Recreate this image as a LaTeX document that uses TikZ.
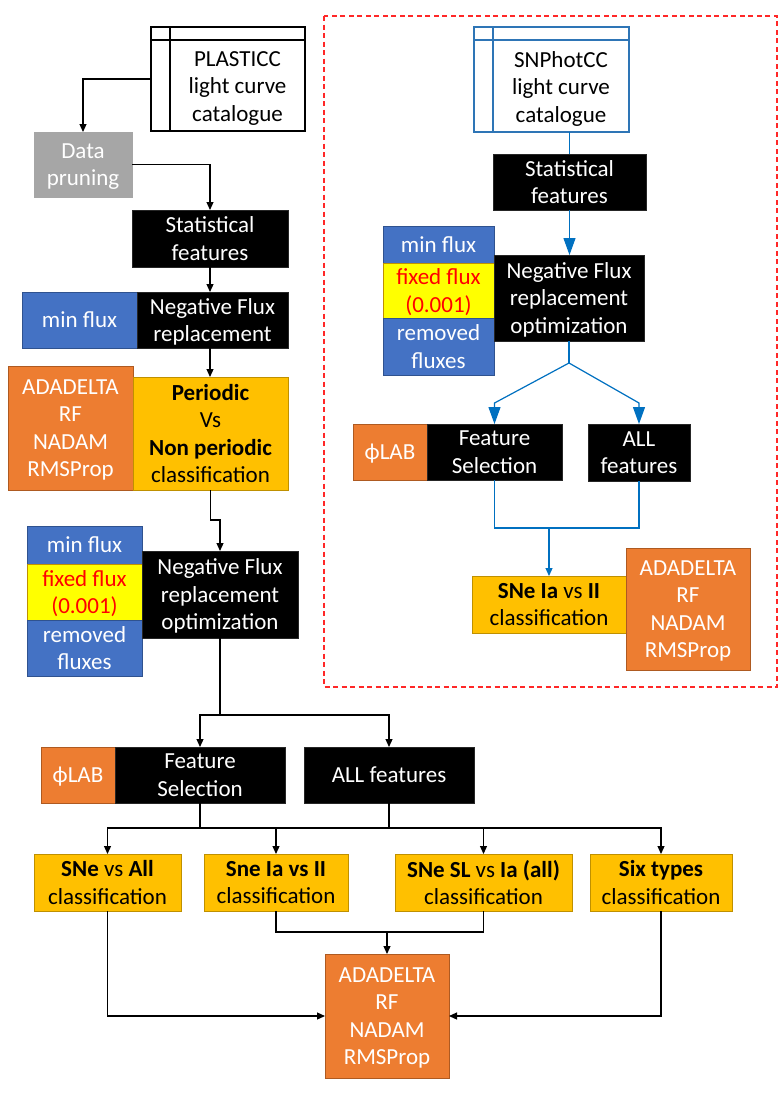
\documentclass[tikz,border=0pt]{standalone}
\usepackage{fontspec}
\setmainfont{Carlito}
\usetikzlibrary{arrows.meta}
\definecolor{orng}{RGB}{237,125,49}
\definecolor{orngd}{RGB}{174,90,33}
\definecolor{yel}{RGB}{255,192,0}
\definecolor{yeld}{RGB}{191,144,0}
\definecolor{blu}{RGB}{68,114,196}
\definecolor{blud}{RGB}{47,82,143}
\definecolor{gry}{RGB}{166,166,166}
\definecolor{dbblue}{RGB}{46,117,182}
\definecolor{lnblue}{RGB}{0,112,192}
\definecolor{brightyel}{RGB}{255,255,0}
\definecolor{redtxt}{RGB}{255,0,0}
\definecolor{reddash}{RGB}{255,40,40}
\newcommand\mybox[7]{\node[#2, minimum width={#4-#3}, minimum height={#6-#5}, text depth=0pt] (#1) at ({(#3+#4)/2},{(#5+#6)/2}) {#7};}
\begin{document}
\begin{tikzpicture}[x=1pt,y=-1pt,
  every node/.style={font=\fontsize{23}{27.5}\selectfont, align=center, inner sep=0pt, outer sep=0pt},
  blk/.style={fill=black, draw=black!85, line width=0.8pt, text=white},
  org/.style={fill=orng, draw=orngd, line width=0.8pt, text=white},
  ylw/.style={fill=yel, draw=yeld, line width=0.8pt, text=black},
  bl/.style={fill=blu, draw=blud, line width=0.8pt, text=white},
  byl/.style={fill=brightyel, draw=yeld, line width=0.8pt, text=redtxt},
  gr/.style={fill=gry, draw=gry, line width=0.8pt, text=white},
  db/.style={draw=black, line width=1.2pt, fill=white},
  line/.style={draw=black, line width=1.2pt},
  arr/.style={line, -{Triangle[length=8pt,width=7pt]}},
  bline/.style={draw=lnblue, line width=1.2pt},
  barr/.style={bline, -{Triangle[length=17pt,width=12pt]}},
  sarr/.style={bline, -{Triangle[length=8pt,width=7pt]}}
]
\useasboundingbox (0,0) rectangle (782,1101);

% ---------------- left column ----------------
\mybox{db1}{db}{151}{305}{27}{131}{}
\draw[line width=1.2pt] (151,40) -- (305,40);
\draw[line width=1.2pt] (170,27) -- (170,131);
\node (db1t) at (237.5,88.5) {PLASTICC\\light curve\\catalogue};

\mybox{prune}{gr}{34}{132}{132}{197}{Data\\pruning}
\mybox{stat1}{blk}{132}{288}{210}{267}{Statistical\\features}
\mybox{mf1}{bl}{22}{137}{292}{348}{min flux}
\mybox{neg1}{blk}{137}{288}{292}{348}{Negative Flux\\replacement}
\mybox{alg1}{org}{8}{133}{366}{490}{ADADELTA\\RF\\NADAM\\RMSProp}
\mybox{per}{ylw}{133}{288}{377}{490}{\textbf{Periodic}\\Vs\\\textbf{Non periodic}\\classification}
\mybox{mf2}{bl}{27}{142}{526}{564}{min flux}
\mybox{ff2}{byl}{27}{142}{564}{620}{fixed flux\\(0.001)}
\mybox{rf2}{bl}{27}{142}{620}{676}{removed\\fluxes}
\mybox{neg2}{blk}{142}{298}{551}{638}{Negative Flux\\replacement\\optimization}
\mybox{phi1}{org}{41}{115}{747}{803}{ϕLAB}
\mybox{fs1}{blk}{115}{285}{747}{803}{Feature\\Selection}
\mybox{all1}{blk}{304}{474}{747}{803}{ALL features}
\mybox{c1}{ylw}{34}{181}{854}{911}{\textbf{SNe} vs \textbf{All}\\classification}
\mybox{c2}{ylw}{204}{348}{854}{911}{\textbf{Sne Ia vs II}\\classification}
\mybox{c3}{ylw}{395}{572}{854}{911}{\textbf{SNe SL} vs \textbf{Ia (all)}\\classification}
\mybox{c4}{ylw}{590}{732}{854}{911}{\textbf{Six types}\\classification}
\mybox{alg2}{org}{325}{449}{954}{1078}{ADADELTA\\RF\\NADAM\\RMSProp}

\draw[arr] (db1.west) -| (prune.north);
\draw[arr] (prune.east) -| (stat1.north);
\draw[arr] (stat1.south) -- (stat1.south |- neg1.north);
\draw[arr] (stat1.south |- neg1.south) -- (stat1.south |- per.north);
\coordinate (j0) at (210.5,520);
\draw[arr] (per.south) -- (j0) -| (neg2.north);
\coordinate (j1) at (220,715);
\draw[line] (neg2.south) -- (j1);
\draw[arr] (j1) -| (fs1.north);
\draw[arr] (j1) -| (all1.north);
\coordinate (j2) at (200,828);
\coordinate (j2b) at (389,828);
\draw[line] (fs1.south) -- (j2);
\draw[line] (all1.south) -- (j2b);
\draw[line] (j2) -- (j2b);
\draw[arr] (j2) -| (c1.north);
\draw[arr] (j2) -| (c2.north);
\draw[arr] (j2b) -| (c3.north);
\draw[arr] (j2b) -| (c4.north);
\coordinate (j3) at (387,932);
\draw[line] (c2.south) |- (j3) -| (c3.south);
\draw[arr] (j3) -- (alg2.north);
\draw[arr] (c1.south) |- (alg2.west);
\draw[arr] (c4.south) |- (alg2.east);

% ---------------- right panel ----------------
\draw[draw=reddash, line width=1.2pt, dash pattern=on 5pt off 3.5pt] (324,16) rectangle (777,687);
\mybox{db2}{db, draw=dbblue}{474}{629}{27}{132}{}
\draw[draw=dbblue, line width=1.2pt] (474,40) -- (629,40);
\draw[draw=dbblue, line width=1.2pt] (493,27) -- (493,132);
\node (db2t) at (561,88.5) {SNPhotCC\\light curve\\catalogue};

\mybox{stat2}{blk}{493}{646}{154}{210}{Statistical\\features}
\mybox{mf3}{bl}{383}{494}{226}{263}{min flux}
\mybox{ff3}{byl}{383}{494}{263}{318}{fixed flux\\(0.001)}
\mybox{rf3}{bl}{383}{494}{318}{375}{removed\\fluxes}
\mybox{neg3}{blk}{494}{644}{255}{341}{Negative Flux\\replacement\\optimization}
\mybox{phi2}{org}{353}{427}{424}{480}{ϕLAB}
\mybox{fs2}{blk}{427}{562}{424}{480}{Feature\\Selection}
\mybox{all2}{blk}{588}{690}{424}{481}{ALL\\features}
\mybox{c5}{ylw}{472}{626}{576}{633}{\textbf{SNe Ia} vs \textbf{II}\\classification}
\mybox{alg3}{org}{626}{750}{548}{670}{ADADELTA\\RF\\NADAM\\RMSProp}

\draw[bline] (stat2.north |- db2.south) -- (stat2.north);
\draw[barr] (stat2.south) -- (stat2.south |- neg3.north);
\coordinate (j4) at (569,363);
\coordinate (k4) at (0,403);
\draw[bline] (neg3.south -| j4) -- (j4);
\draw[barr] (j4) -- (fs2.north |- k4) -- (fs2.north);
\draw[barr] (j4) -- (all2.north |- k4) -- (all2.north);
\coordinate (j5) at (549,528);
\draw[bline] (fs2.south) |- (j5) -| (all2.south);
\draw[sarr] (j5) -- (c5.north);
\end{tikzpicture}
\end{document}
